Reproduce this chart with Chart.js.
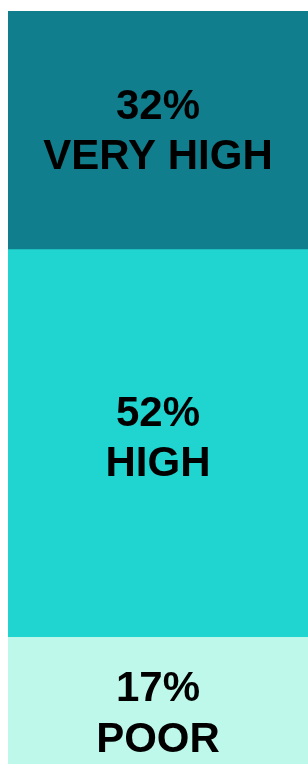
<!DOCTYPE html>
<html>
<head>
<meta charset="utf-8">
<script src="https://cdn.jsdelivr.net/npm/chart.js@4.4.0/dist/chart.umd.min.js"></script>
<style>
  html, body { margin: 0; padding: 0; background: #ffffff; }
  #myChart { display: block; }
</style>
</head>
<body>
<canvas id="myChart" width="308" height="764"></canvas>
<script>
// data, bottom segment first
const categories = ['Rating'];
const levelNames = ['POOR', 'HIGH', 'VERY HIGH'];
const levelValues = [17, 52, 32];
const levelColors = ['#bdf8ea', '#20d5cf', '#107e8c'];
// small vertical nudge of each label, in pixels
const labelShift = [12, -6, 0];

const totalValue = levelValues.reduce((a, b) => a + b, 0);

// draws "NN%" and the level name in the middle of every segment
const segmentLabels = {
    id: 'segmentLabels',
    afterDatasetsDraw(chart) {
        const ctx = chart.ctx;
        ctx.save();
        ctx.fillStyle = '#000000';
        ctx.textAlign = 'center';
        ctx.textBaseline = 'alphabetic';
        ctx.font = 'bold 42px "Liberation Sans", Arial, sans-serif';
        chart.data.datasets.forEach((ds, i) => {
            const bar = chart.getDatasetMeta(i).data[0];
            const mid = (bar.y + bar.base) / 2 + labelShift[i];
            const x = bar.x;
            ctx.fillText(ds.data[0] + '%', x, mid - 11.5);
            ctx.fillText(ds.label, x, mid + 39);
        });
        ctx.restore();
    }
};

const ctx = document.getElementById('myChart');

new Chart(ctx.getContext('2d'), {
    type: 'bar',
    data: {
        labels: categories,
        datasets: levelNames.map((name, i) => ({
            label: name,
            data: [levelValues[i]],
            backgroundColor: levelColors[i],
            borderWidth: 0,
            barPercentage: 1,
            categoryPercentage: 1
        }))
    },
    options: {
        responsive: false,
        maintainAspectRatio: false,
        animation: false,
        layout: {
            padding: { top: 11, left: 8, right: 0, bottom: 0 }
        },
        scales: {
            x: { stacked: true, display: false },
            y: { stacked: true, display: false, min: 0, max: totalValue }
        },
        plugins: {
            legend: { display: false },
            tooltip: { enabled: false }
        }
    },
    plugins: [segmentLabels]
});
</script>
</body>
</html>
